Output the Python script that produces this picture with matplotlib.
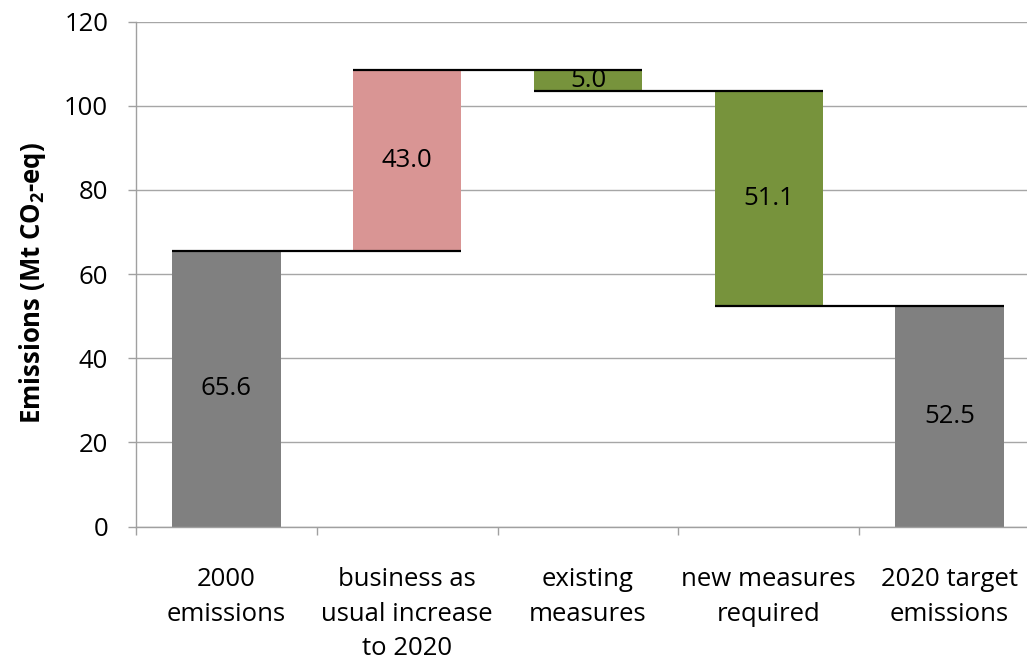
import matplotlib
matplotlib.use("Agg")
import matplotlib.pyplot as plt
import numpy as np

# Waterfall of emissions from 2000 to the 2020 target
categories = ["2000\nemissions", "business as\nusual increase\nto 2020",
              "existing\nmeasures", "new measures\nrequired", "2020 target\nemissions"]
changes = [65.6, 43.0, -5.0, -51.1, 52.5]   # signed step values
kinds = ["total", "up", "down", "down", "total"]
y_ticks = [0, 20, 40, 60, 80, 100, 120]

colors = {"total": "#808080", "up": "#D99594", "down": "#77933C"}

plt.rcParams["font.family"] = ["Open Sans", "DejaVu Sans"]
plt.rcParams["mathtext.fontset"] = "custom"
plt.rcParams["mathtext.rm"] = "Open Sans"
plt.rcParams["mathtext.bf"] = "Open Sans:bold"

FS = 18.5

W, H = 1027, 662
fig = plt.figure(figsize=(W / 100, H / 100), dpi=100)
left, right, top, bottom = 136, 1040, 21.7, 526.5
ax = fig.add_axes([left / W, 1 - bottom / H, (right - left) / W, (bottom - top) / H])

# compute bar bottoms/heights and running totals
bottoms, heights, levels = [], [], []
running = 0.0
for c, k in zip(changes, kinds):
    if k == "total":
        bottoms.append(0.0)
        heights.append(c)
        running = c
    elif c >= 0:
        bottoms.append(running)
        heights.append(c)
        running += c
    else:
        running += c
        bottoms.append(running)
        heights.append(-c)
    levels.append(running)

x = np.arange(len(categories))
bw = 0.6
ax.bar(x, heights, bottom=bottoms, width=bw,
       color=[colors[k] for k in kinds], zorder=2)

# connector lines from each bar to the next one
for i in range(len(categories) - 1):
    ax.plot([x[i] - bw / 2, x[i + 1] + bw / 2], [levels[i], levels[i]],
            color="black", lw=1.6, zorder=3, solid_capstyle="butt")

# value labels at bar centres
for xi, b, h in zip(x, bottoms, heights):
    ax.text(xi, b + h / 2, f"{h:.1f}", ha="center", va="center",
            fontsize=FS, color="black", zorder=4)

ax.set_xlim(-0.5, len(categories) - 0.5)
ax.set_ylim(0, 120)
ax.set_yticks(y_ticks)
ax.yaxis.grid(True, color="#A6A6A6", lw=1.0, zorder=0)
ax.set_axisbelow(True)

for s in ["top", "right"]:
    ax.spines[s].set_visible(False)
for s in ["left", "bottom"]:
    ax.spines[s].set_color("#A0A0A0")
    ax.spines[s].set_linewidth(1.0)

ax.set_xticks(x)
ax.set_xticklabels(categories, fontsize=FS, linespacing=1.5)
ax.set_xticks(np.arange(-0.5, len(categories), 1.0), minor=True)
ax.tick_params(axis="x", which="major", length=0, pad=29.5)
ax.tick_params(axis="x", which="minor", length=6, width=1.0, color="#A0A0A0")
ax.tick_params(axis="y", length=6, width=1.0, color="#A0A0A0", labelsize=FS, pad=14)

ax.set_ylabel(r"Emissions (Mt CO$_\mathbf{2}$-eq)", fontsize=18.5, fontweight="bold")
ax.yaxis.set_label_coords((48 - left) / (right - left), (bottom - 283) / (bottom - top))

fig.savefig("out.png", dpi=100)
